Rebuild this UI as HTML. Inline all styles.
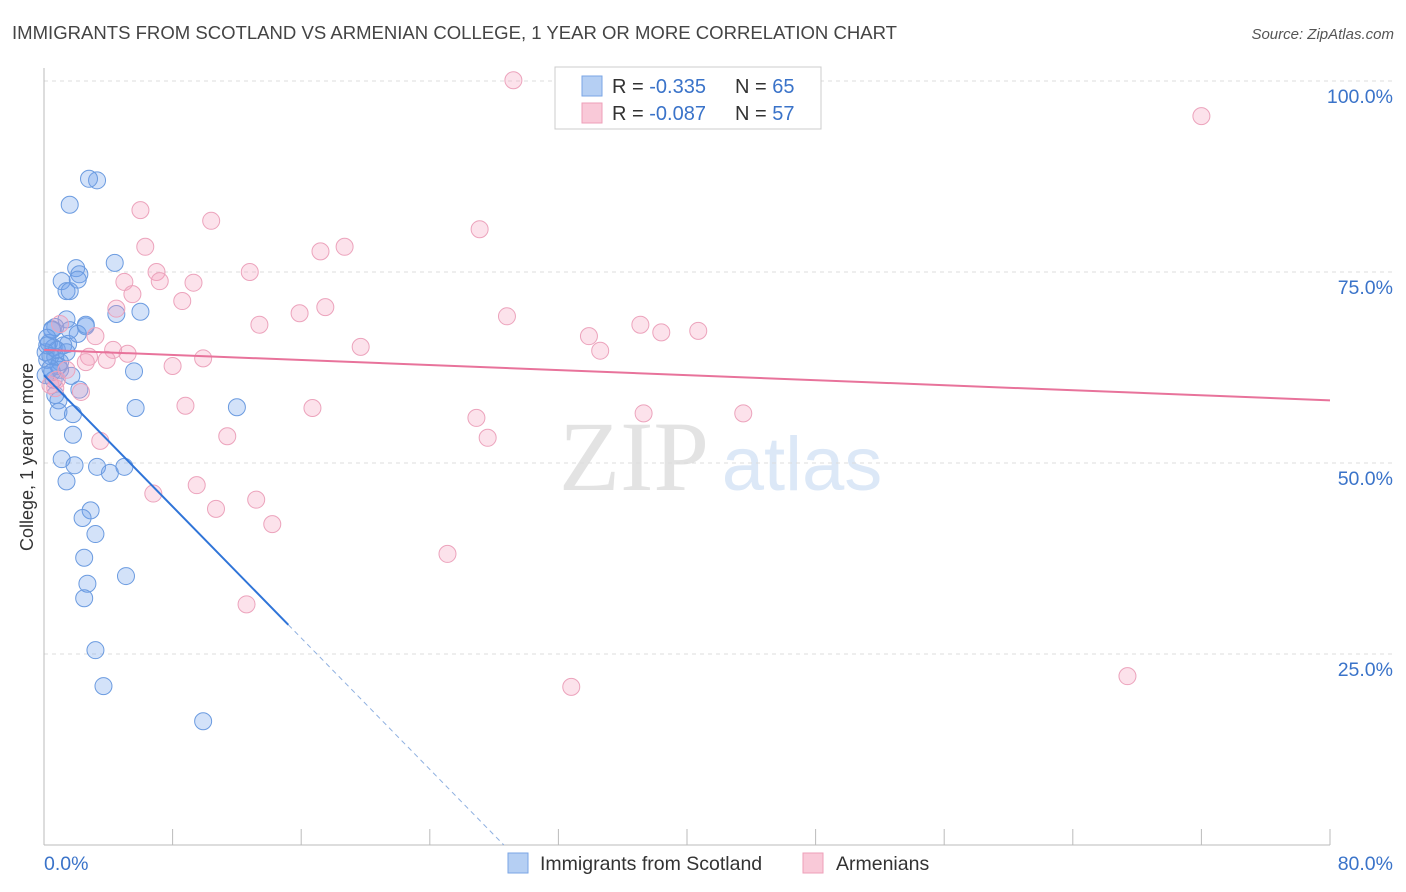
<!DOCTYPE html>
<html><head><meta charset="utf-8"><style>
body{margin:0;background:#fff;font-family:"Liberation Sans",sans-serif}
svg{display:block}
</style></head><body>
<svg width="1406" height="892" id="chart">
<text x="12" y="39" font-size="18" fill="#444" textLength="885" lengthAdjust="spacingAndGlyphs">IMMIGRANTS FROM SCOTLAND VS ARMENIAN COLLEGE, 1 YEAR OR MORE CORRELATION CHART</text>
<text x="1394" y="39" font-size="15" fill="#555" font-style="italic" text-anchor="end">Source: ZipAtlas.com</text>
<g>
<text x="634" y="490" font-size="100" fill="#e3e3e3" font-family="Liberation Serif,serif" text-anchor="middle">ZIP</text>
<text x="802" y="490" font-size="76" fill="#dce8f7" text-anchor="middle">atlas</text>
</g>
<g id="grid"></g>
<g id="axes"></g>
<g id="marks"></g>
<g>
<rect x="555" y="67" width="266" height="62" fill="#fff" stroke="#ccc"/>
<rect x="582" y="76" width="20" height="20" fill="#b5cff3" stroke="#7aa6e6"/>
<rect x="582" y="103" width="20" height="20" fill="#f9c9d8" stroke="#ee9fb8"/>
<text x="612" y="93" font-size="20" fill="#333">R = <tspan fill="#3a73c9">-0.335</tspan><tspan x="735">N = </tspan><tspan fill="#3a73c9">65</tspan></text>
<text x="612" y="120" font-size="20" fill="#333">R = <tspan fill="#3a73c9">-0.087</tspan><tspan x="735">N = </tspan><tspan fill="#3a73c9">57</tspan></text>
</g>
<g>
<rect x="508" y="853" width="20" height="20" fill="#b5cff3" stroke="#7aa6e6"/>
<text x="540" y="870" font-size="19.5" fill="#333">Immigrants from Scotland</text>
<rect x="803" y="853" width="20" height="20" fill="#f9c9d8" stroke="#ee9fb8"/>
<text x="836" y="870" font-size="19.5" fill="#333">Armenians</text>
</g>
<text transform="translate(33,457) rotate(-90)" font-size="18" fill="#333" text-anchor="middle">College, 1 year or more</text>
</svg>
<script>
const blueX=[3.3,2.8,1.6,4.4,2.0,2.2,1.1,2.1,1.4,1.6,6.0,4.5,1.4,0.7,2.6,0.5,2.1,2.6,0.3,1.5,0.6,0.1,0.4,0.7,0.9,1.0,5.6,1.7,0.6,2.2,0.9,5.7,12.0,0.9,1.8,1.8,1.1,1.9,3.3,5.0,4.1,1.4,2.9,2.4,3.2,2.5,2.7,5.1,2.5,3.2,3.7,9.9,0.2,0.1,0.5,0.2,0.7,1.0,1.2,0.4,0.8,0.2,1.4,0.5,1.6];
const blueY=[87.0,87.2,83.8,76.2,75.5,74.7,73.8,74.0,72.5,72.5,69.8,69.5,68.8,67.8,67.9,67.5,66.9,68.1,65.7,65.6,65.1,64.5,64.0,63.9,62.7,62.2,62.0,61.4,60.9,59.6,58.2,57.2,57.3,56.7,56.4,53.7,50.5,49.7,49.5,49.5,48.7,47.6,43.8,42.8,40.7,37.6,34.2,35.2,32.3,25.5,20.8,16.2,63.5,61.5,67.4,66.4,58.9,63.2,65.4,62.4,64.8,65.4,64.5,61.9,67.4];
const pinkX=[29.2,72.0,6.0,10.4,27.1,6.3,18.7,17.2,7.0,12.8,7.2,9.3,5.0,5.5,8.6,4.5,15.9,17.5,28.8,13.4,33.9,37.1,38.4,40.7,3.2,19.7,34.6,5.2,4.3,2.8,9.9,3.9,8.0,2.6,1.0,0.8,0.7,2.3,8.8,16.7,37.3,43.5,26.9,27.6,11.4,3.5,6.8,9.5,13.2,10.7,14.2,25.1,12.6,32.8,67.4,1.4,0.4];
const pinkY=[100.1,95.4,83.1,81.7,80.6,78.3,78.3,77.7,75.0,75.0,73.8,73.6,73.7,72.1,71.2,70.2,69.6,70.4,69.2,68.1,66.6,68.1,67.1,67.3,66.6,65.2,64.7,64.3,64.8,63.9,63.7,63.5,62.7,63.2,68.2,60.9,59.8,59.3,57.5,57.2,56.5,56.5,55.9,53.3,53.5,52.9,46.0,47.1,45.2,44.0,42.0,38.1,31.5,20.7,22.1,62.2,60.2];
const yTicks=[25,50,75,100];
const yTickLabels=["25.0%","50.0%","75.0%","100.0%"];
const xTickVals=[0,8,16,24,32,40,48,56,64,72,80];
const blueTrend=[61.5,-2.15,15.2];
const pinkTrend=[64.8,58.2];
const X0=44,X1=1330,Y0=845,Y100=81;
const sx=v=>X0+(X1-X0)*v/80, sy=v=>Y0-(Y0-Y100)*v/100;
const NS="http://www.w3.org/2000/svg";
function mk(tag,parent,attrs){const e=document.createElementNS(NS,tag);for(const k in attrs)e.setAttribute(k,attrs[k]);parent.appendChild(e);return e;}
const grid=document.getElementById('grid'),axes=document.getElementById('axes'),marks=document.getElementById('marks');
yTicks.forEach((t,i)=>{
 const l=mk('line',grid,{x1:X0,x2:1394,y1:sy(t),y2:sy(t),stroke:'#ddd','stroke-dasharray':'4,4'});
 
 
 const tx=mk('text',axes,{x:1393,y:sy(t)+22,'font-size':19.5,fill:'#3a73c9','text-anchor':'end'});
 tx.textContent=yTickLabels[i];
 
 
});
const ax=mk('line',axes,{x1:X0,x2:X1,y1:Y0,y2:Y0,stroke:'#bbb'});


const ay=mk('line',axes,{x1:X0,x2:X0,y1:68,y2:Y0,stroke:'#bbb'});


xTickVals.forEach(v=>{const t=mk('line',axes,{x1:sx(v),x2:sx(v),y1:Y0,y2:Y0-16,stroke:'#bbb'});
 
 });
const xl0=mk('text',axes,{x:44,y:870,'font-size':19.5,fill:'#3a73c9'});xl0.textContent='0.0%';


const xl1=mk('text',axes,{x:1393,y:870,'font-size':19.5,fill:'#3a73c9','text-anchor':'end'});xl1.textContent='80.0%';


blueX.forEach((x,i)=>{const c=mk('circle',marks,{cx:sx(x),cy:sy(blueY[i]),r:8.5,fill:'rgba(110,160,235,0.3)',stroke:'#6b9be0','stroke-width':1});
 
 });
pinkX.forEach((x,i)=>{const c=mk('circle',marks,{cx:sx(x),cy:sy(pinkY[i]),r:8.5,fill:'rgba(245,160,190,0.3)',stroke:'#eca3bc','stroke-width':1});
 
 });
const bEnd=blueTrend[2], bZero=-blueTrend[0]/blueTrend[1];
const bl=mk('line',marks,{x1:sx(0),y1:sy(blueTrend[0]),x2:sx(bEnd),y2:sy(blueTrend[0]+blueTrend[1]*bEnd),stroke:'#2f74d8','stroke-width':2});


const bd=mk('line',marks,{x1:sx(bEnd),y1:sy(blueTrend[0]+blueTrend[1]*bEnd),x2:sx(bZero),y2:sy(0),stroke:'#8fb0e0','stroke-width':1,'stroke-dasharray':'5,4'});


const pl=mk('line',marks,{x1:sx(0),y1:sy(pinkTrend[0]),x2:sx(80),y2:sy(pinkTrend[1]),stroke:'#e8739b','stroke-width':2});


</script>
</body></html>
